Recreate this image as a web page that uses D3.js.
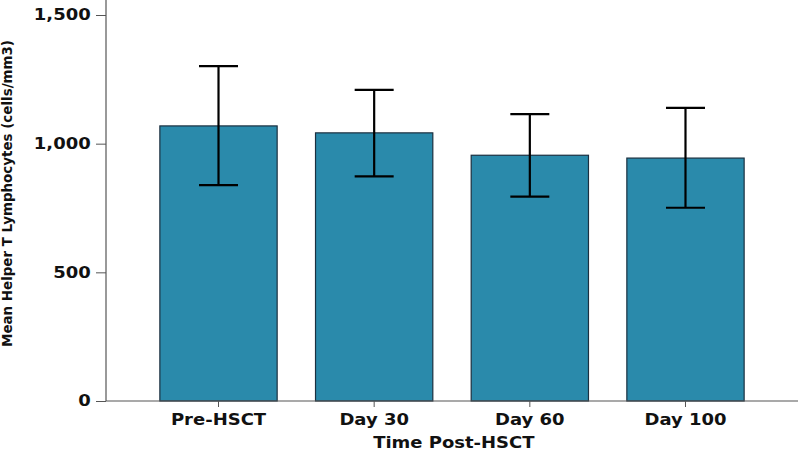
<!DOCTYPE html>
<html>
<head>
<meta charset="utf-8">
<script src="https://cdn.jsdelivr.net/npm/d3@7"></script>
<style>
  html, body { margin: 0; padding: 0; background: #fff; }
  svg { display: block; }
  .tick text, .lbl { font-family: "DejaVu Sans", sans-serif; font-weight: bold; fill: #111; }
</style>
</head>
<body>
<svg id="chart" width="800" height="451"></svg>
<script>
const categories = ["Pre-HSCT", "Day 30", "Day 60", "Day 100"];
const means = [1069, 1042, 955, 944];
const upper = [1301, 1209, 1115, 1139];
const lower = [839, 873, 794, 751];
const yTicks = [0, 500, 1000, 1500];
const xTitle = "Time Post-HSCT";
const yTitle = "Mean Helper T Lymphocytes (cells/mm3)";

const svg = d3.select("#chart");
const x0 = 106, x1 = 798, yBase = 401, yTop = 15;
const sx = 1.2;

const x = d3.scaleBand().domain(categories).range([x0, x1]).paddingInner(0.2465).paddingOuter(0.346);
const y = d3.scaleLinear().domain([0, 1500]).range([yBase, yTop]);

// bars
svg.append("g").selectAll("rect").data(categories).join("rect")
  .attr("x", d => x(d))
  .attr("y", (d, i) => y(means[i]))
  .attr("width", x.bandwidth())
  .attr("height", (d, i) => yBase - y(means[i]))
  .attr("fill", "#2a8aab")
  .attr("stroke", "#1b3040")
  .attr("stroke-width", 1.2);

// error bars
const capW = 39;
const eb = svg.append("g").attr("stroke", "#000").attr("stroke-width", 2.2);
categories.forEach((c, i) => {
  const cx = x(c) + x.bandwidth() / 2;
  eb.append("line").attr("x1", cx).attr("x2", cx).attr("y1", y(upper[i])).attr("y2", y(lower[i]));
  eb.append("line").attr("x1", cx - capW / 2).attr("x2", cx + capW / 2).attr("y1", y(upper[i])).attr("y2", y(upper[i]));
  eb.append("line").attr("x1", cx - capW / 2).attr("x2", cx + capW / 2).attr("y1", y(lower[i])).attr("y2", y(lower[i]));
});

// y axis
const yAxis = svg.append("g").attr("transform", `translate(${x0},0)`)
  .call(d3.axisLeft(y).tickValues(yTicks).tickFormat(d3.format(",")).tickSize(10).tickPadding(5));
yAxis.select(".domain").remove();
yAxis.selectAll(".tick line").attr("stroke", "#555");
yAxis.selectAll(".tick text")
  .attr("font-size", 15)
  .attr("x", -15.3 / sx)
  .attr("transform", `scale(${sx},1)`);
svg.append("line").attr("x1", x0).attr("x2", x0).attr("y1", 0).attr("y2", yBase)
  .attr("stroke", "#555").attr("stroke-width", 1.2);

// x axis
const xAxis = svg.append("g").attr("transform", `translate(0,${yBase})`)
  .call(d3.axisBottom(x).tickSize(6).tickSizeOuter(0));
xAxis.select(".domain").remove();
xAxis.selectAll(".tick line").attr("stroke", "#555");
xAxis.selectAll(".tick text")
  .attr("font-size", 15)
  .attr("y", 24).attr("dy", 0)
  .attr("transform", `scale(${sx},1)`);
svg.append("line").attr("x1", x0).attr("x2", x1).attr("y1", yBase).attr("y2", yBase)
  .attr("stroke", "#555").attr("stroke-width", 1.2);

// titles
svg.append("text").attr("class", "lbl")
  .attr("font-size", 15)
  .attr("text-anchor", "middle")
  .attr("transform", `translate(453.8,447.5) scale(${sx},1)`)
  .text(xTitle);

svg.append("text").attr("class", "lbl")
  .attr("font-size", 13.5)
  .attr("text-anchor", "middle")
  .attr("textLength", 307)
  .attr("lengthAdjust", "spacingAndGlyphs")
  .style("font-family", "'DejaVu Sans Condensed', 'DejaVu Sans', sans-serif")
  .attr("transform", "translate(12,193.5) rotate(-90)")
  .text(yTitle);
</script>
</body>
</html>
